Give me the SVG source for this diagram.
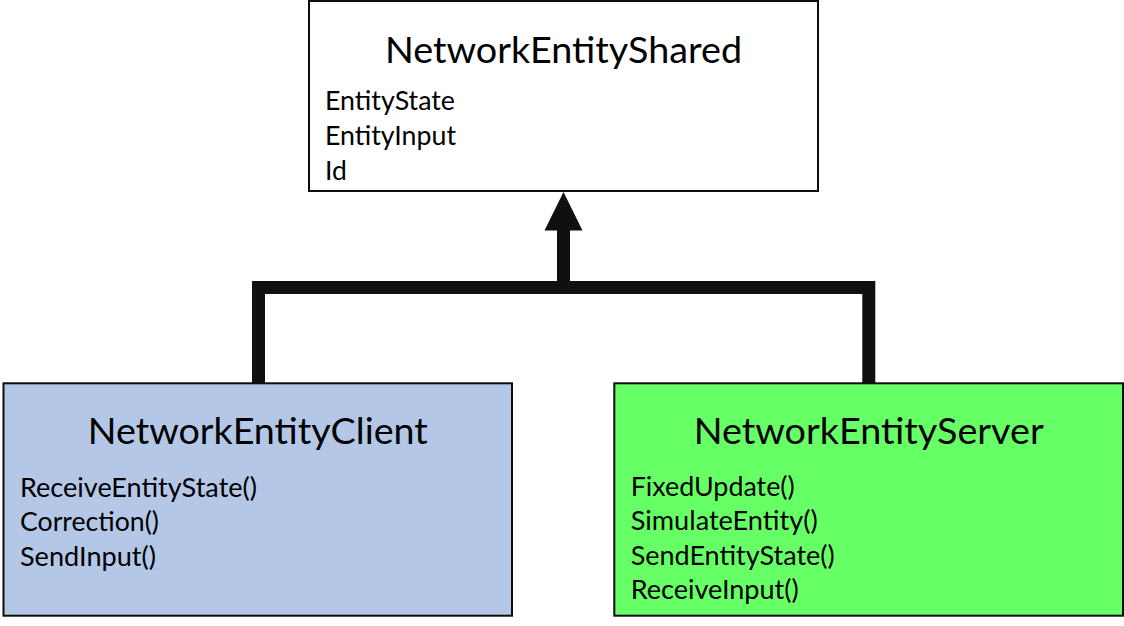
<svg xmlns="http://www.w3.org/2000/svg" width="1124" height="626" viewBox="0 0 1124 626">
  <style>
    .box { stroke: #0d0d0d; stroke-width: 2; }
    .title { font-family: Lato, "Open Sans", "Liberation Sans", sans-serif; font-size: 37.5px; fill: #000; text-anchor: middle; }
    .item { font-family: Lato, "Open Sans", "Liberation Sans", sans-serif; font-size: 26.5px; fill: #000; }
    .conn { fill: none; stroke: #101010; stroke-width: 13; stroke-linejoin: miter; stroke-linecap: butt; }
  </style>
  <rect width="1124" height="626" fill="#ffffff"/>
  <g id="connectors">
    <polyline class="conn" points="258.5,383 258.5,287.5 868.8,287.5 868.8,383"/>
    <line class="conn" x1="563.5" y1="287.5" x2="563.5" y2="228"/>
    <polygon points="563.5,192 544.5,230.5 582.5,230.5" fill="#101010"/>
  </g>
  <g id="NetworkEntityShared">
    <rect class="box" x="309" y="1" width="509" height="190" fill="#ffffff"/>
    <text class="title" x="563.5" y="62.5" textLength="357" lengthAdjust="spacingAndGlyphs">NetworkEntityShared</text>
    <text class="item" x="325" y="110" textLength="130" lengthAdjust="spacingAndGlyphs">EntityState</text>
    <text class="item" x="325" y="145" textLength="131" lengthAdjust="spacingAndGlyphs">EntityInput</text>
    <text class="item" x="325" y="180">Id</text>
  </g>
  <g id="NetworkEntityClient">
    <rect class="box" x="3.5" y="383.3" width="508.5" height="232.4" fill="#b4c7e7"/>
    <text class="title" x="257.8" y="443.5" textLength="340" lengthAdjust="spacingAndGlyphs">NetworkEntityClient</text>
    <text class="item" x="20" y="496.5" textLength="237" lengthAdjust="spacingAndGlyphs">ReceiveEntityState()</text>
    <text class="item" x="20" y="531" textLength="139" lengthAdjust="spacingAndGlyphs">Correction()</text>
    <text class="item" x="20" y="565.5" textLength="136" lengthAdjust="spacingAndGlyphs">SendInput()</text>
  </g>
  <g id="NetworkEntityServer">
    <rect class="box" x="614.3" y="383.3" width="508.7" height="232.4" fill="#66ff66"/>
    <text class="title" x="868.7" y="443.5" textLength="350" lengthAdjust="spacingAndGlyphs">NetworkEntityServer</text>
    <text class="item" x="630.7" y="496" textLength="164" lengthAdjust="spacingAndGlyphs">FixedUpdate()</text>
    <text class="item" x="630.7" y="530" textLength="187" lengthAdjust="spacingAndGlyphs">SimulateEntity()</text>
    <text class="item" x="630.7" y="564.5" textLength="204" lengthAdjust="spacingAndGlyphs">SendEntityState()</text>
    <text class="item" x="630.7" y="599" textLength="168" lengthAdjust="spacingAndGlyphs">ReceiveInput()</text>
  </g>
</svg>
